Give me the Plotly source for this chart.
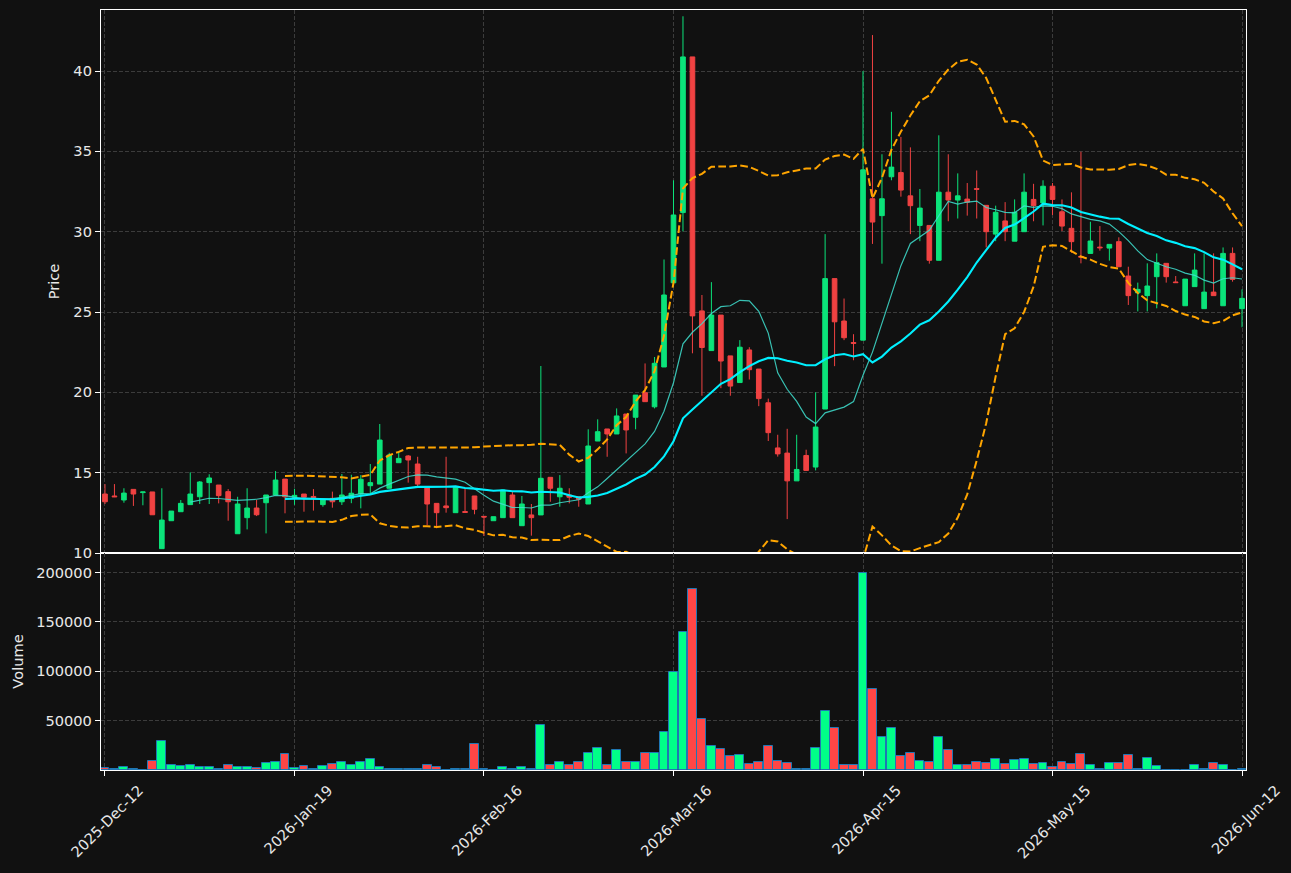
import numpy as np
import pandas as pd
import plotly.graph_objects as go
from plotly.subplots import make_subplots

# ---------------- data ----------------
tick_labels = ["2025-Dec-12", "2026-Jan-19", "2026-Feb-16", "2026-Mar-16",
               "2026-Apr-15", "2026-May-15", "2026-Jun-12"]
tick_index = [0, 20, 40, 60, 80, 100, 120]

open_ = [13.67, 13.55, 13.30, 13.96, 13.76, 13.80, 10.27, 12.01, 12.57, 13.01,
         13.50, 14.38, 14.23, 13.82, 11.20, 12.20, 12.80, 13.13, 13.61, 14.60,
         13.47, 13.67, 13.52, 13.01, 13.40, 13.19, 13.40, 13.67, 14.19, 14.29,
         14.03, 15.62, 16.04, 15.54, 14.09, 13.09, 12.93, 12.51, 12.58, 13.55,
         12.28, 12.01, 12.20, 13.61, 11.70, 12.37, 12.37, 14.71, 13.50, 13.61,
         13.50, 13.05, 16.97, 17.72, 17.41, 18.65, 18.45, 19.98, 19.10, 21.58,
         26.82, 31.19, 40.88, 25.07, 22.60, 24.81, 22.27, 20.61, 22.64, 21.45,
         19.35, 16.54, 16.22, 14.49, 16.07, 15.35, 18.96, 27.08, 24.44, 23.10,
         23.25, 32.05, 31.00, 33.42, 33.68, 32.23, 30.39, 30.39, 28.22, 32.46,
         31.97, 32.03, 32.68, 31.64, 29.85, 30.67, 29.41, 30.00, 32.01, 31.79,
         32.83, 31.24, 30.21, 28.46, 28.65, 29.04, 28.98, 29.38, 27.24, 26.20,
         26.02, 27.20, 28.03, 26.87, 25.39, 26.58, 25.21, 26.24, 25.39, 28.65,
         25.21]
high = [14.29, 14.29, 14.03, 13.96, 13.80, 13.80, 14.03, 12.61, 13.30, 15.02,
        14.48, 14.90, 14.23, 13.98, 13.50, 14.03, 13.30, 13.61, 15.10, 14.60,
        14.00, 13.67, 13.98, 13.34, 13.82, 14.92, 14.87, 14.85, 15.54, 18.03,
        16.24, 16.30, 16.10, 15.99, 14.09, 13.09, 15.99, 14.07, 14.03, 13.55,
        12.28, 12.26, 13.92, 13.82, 13.55, 13.05, 21.64, 14.71, 14.85, 14.03,
        13.50, 17.70, 18.32, 17.72, 19.00, 18.65, 19.83, 21.80, 22.20, 28.27,
        33.20, 43.41, 40.88, 26.06, 26.86, 24.81, 22.27, 23.25, 22.81, 21.45,
        19.61, 17.36, 17.73, 17.36, 16.43, 20.00, 29.85, 27.08, 25.84, 23.62,
        40.00, 42.24, 34.82, 37.46, 35.90, 35.25, 32.66, 30.39, 36.00, 34.82,
        33.63, 33.03, 33.81, 31.64, 31.62, 31.84, 32.01, 33.63, 32.98, 33.20,
        33.03, 32.01, 32.45, 34.98, 30.62, 30.35, 29.21, 29.65, 27.82, 26.83,
        28.03, 28.65, 28.03, 27.24, 27.05, 28.65, 28.65, 28.65, 29.02, 29.02,
        26.41]
low = [13.05, 13.48, 13.13, 12.93, 12.97, 12.38, 10.27, 12.01, 12.57, 13.01,
       13.05, 13.05, 13.09, 12.01, 11.20, 11.47, 12.30, 11.22, 13.61, 12.47,
       13.00, 12.57, 12.64, 12.88, 12.82, 12.99, 13.10, 12.78, 13.72, 14.29,
       14.03, 15.62, 14.38, 14.17, 11.74, 11.54, 12.51, 12.51, 12.53, 12.41,
       11.06, 12.01, 12.20, 12.20, 11.70, 11.08, 12.37, 13.19, 12.88, 13.09,
       12.88, 13.05, 16.97, 15.99, 17.41, 16.20, 17.70, 19.42, 19.00, 21.58,
       26.82, 30.02, 22.43, 19.79, 22.60, 20.26, 19.79, 20.61, 20.80, 19.14,
       16.97, 16.00, 12.11, 14.49, 15.14, 15.14, 18.96, 21.63, 23.25, 22.00,
       23.25, 29.24, 28.01, 33.20, 32.18, 29.85, 29.41, 28.01, 28.22, 30.65,
       30.82, 31.00, 30.82, 29.02, 29.41, 29.41, 29.41, 30.00, 30.65, 30.39,
       31.04, 30.04, 28.69, 28.03, 28.65, 28.82, 28.20, 27.82, 25.44, 25.04,
       25.04, 25.23, 26.83, 26.83, 25.39, 26.58, 25.21, 26.02, 25.39, 26.89,
       24.05]
close = [13.19, 13.50, 13.73, 13.67, 13.80, 12.38, 12.05, 12.61, 13.09, 13.67,
         14.42, 14.67, 13.57, 13.19, 13.05, 12.80, 12.38, 13.61, 14.54, 13.50,
         13.59, 13.47, 13.45, 13.34, 13.19, 13.61, 13.72, 14.59, 14.38, 17.03,
         16.10, 15.89, 15.79, 14.29, 13.05, 12.51, 12.82, 14.07, 12.53, 12.72,
         12.24, 12.26, 13.92, 12.20, 13.05, 12.20, 14.65, 14.03, 14.03, 13.47,
         13.34, 16.66, 17.55, 17.41, 18.53, 17.66, 19.83, 19.42, 21.81, 26.06,
         31.04, 40.88, 24.76, 22.79, 24.81, 21.95, 20.39, 22.81, 21.41, 19.61,
         17.49, 16.17, 14.49, 15.20, 15.14, 17.84, 27.08, 24.39, 23.40, 23.05,
         33.85, 30.60, 32.05, 34.02, 32.59, 31.62, 31.47, 28.22, 32.46, 31.97,
         32.23, 31.84, 32.64, 30.00, 31.21, 30.00, 31.21, 32.46, 31.62, 32.83,
         32.01, 30.35, 29.38, 28.42, 29.42, 29.00, 29.21, 27.82, 26.02, 26.41,
         26.62, 28.07, 27.20, 26.83, 27.05, 27.61, 26.24, 26.02, 28.65, 27.03,
         25.85]
volume = [2000, 800, 3400, 800, 300, 9500, 29800, 5500, 4500, 5500,
          3400, 3400, 1400, 5500, 3400, 3400, 2400, 7500, 8500, 16600,
          2400, 4500, 1400, 4500, 6500, 8500, 5500, 8500, 11500, 3400,
          800, 800, 1400, 1400, 5500, 3400, 300, 800, 800, 26400,
          600, 200, 3400, 1400, 3400, 1400, 46000, 5500, 8500, 5500,
          8500, 17600, 22700, 5500, 20700, 8500, 8500, 17600, 17600, 38900,
          99700, 139300, 182800, 52100, 24700, 21700, 14600, 15600, 6500, 8500,
          24700, 9500, 7500, 800, 1400, 22700, 60200, 43000, 5500, 5500,
          199000, 82500, 33800, 43000, 14600, 17600, 9500, 8500, 33800, 20700,
          5500, 5500, 8500, 7500, 11500, 6500, 10500, 11500, 6500, 7500,
          3400, 8500, 6500, 16600, 5500, 1400, 7500, 7500, 15600, 1400,
          12500, 4500, 500, 500, 500, 5500, 1400, 7500, 5500, 500,
          1400]

# ---------------- derived series ----------------
x = np.arange(len(close))
cs = pd.Series(close)
ma10 = cs.rolling(10).mean()
ma20 = cs.rolling(20).mean()
sd20 = cs.rolling(20).std()
bb_up = ma20 + 2 * sd20
bb_lo = ma20 - 2 * sd20

UP_C = "#0be37a"
DN_C = "#f04242"
VUP_C = "#00ff88"
VDN_C = "#ff4646"
vcolors = [VUP_C if c >= o else VDN_C for o, c in zip(open_, close)]

fig = make_subplots(rows=2, cols=1, shared_xaxes=True, vertical_spacing=0,
                    row_heights=[543, 217])

fig.add_trace(go.Candlestick(
    x=x, open=open_, high=high, low=low, close=close,
    increasing=dict(line=dict(color=UP_C, width=1), fillcolor=UP_C),
    decreasing=dict(line=dict(color=DN_C, width=1), fillcolor=DN_C),
    whiskerwidth=0, showlegend=False, hoverinfo="skip"), row=1, col=1)

fig.add_trace(go.Scatter(x=x, y=ma10, mode="lines",
                         line=dict(color="rgba(64,224,208,0.85)", width=1.2),
                         showlegend=False, hoverinfo="skip"), row=1, col=1)
fig.add_trace(go.Scatter(x=x, y=ma20, mode="lines",
                         line=dict(color="#00f0ff", width=2.1),
                         showlegend=False, hoverinfo="skip"), row=1, col=1)
for band in (bb_up, bb_lo):
    fig.add_trace(go.Scatter(x=x, y=band, mode="lines",
                             line=dict(color="#ffa500", width=2, dash="7.7px,3.3px"),
                             showlegend=False, hoverinfo="skip"), row=1, col=1)

fig.add_trace(go.Bar(x=x, y=volume, marker=dict(color=vcolors,
                     line=dict(color="#1f77b4", width=1)),
                     width=0.94, showlegend=False, hoverinfo="skip"), row=2, col=1)

GRID = "#3c3c3c"
FONT = dict(family="DejaVu Sans", size=14.6, color="#e8e8e8")
xr = [-0.42, 120.42]

axis_common = dict(showline=True, linecolor="white", linewidth=1.3, mirror=True,
                   showgrid=True, gridcolor=GRID, gridwidth=1, griddash="4px,2px",
                   zeroline=False, automargin=False)

fig.update_xaxes(range=xr, tickvals=tick_index, ticktext=tick_labels,
                 **axis_common)
fig.update_xaxes(showticklabels=False, ticks="", rangeslider_visible=False,
                 row=1, col=1)
fig.update_xaxes(ticks="outside", ticklen=5, tickcolor="white", tickwidth=1,
                 tickangle=-45, ticklabelshift=34, row=2, col=1)

fig.update_yaxes(range=[10, 43.8], tickvals=[10, 15, 20, 25, 30, 35, 40],
                 ticks="outside", ticklen=5, tickcolor="white",
                 title=dict(text="Price", font=FONT, standoff=10),
                 row=1, col=1, **axis_common)
fig.update_yaxes(range=[0, 219700], tickvals=[50000, 100000, 150000, 200000],
                 tickformat="d", ticks="outside", ticklen=5, tickcolor="white",
                 title=dict(text="Volume", font=FONT, standoff=9),
                 row=2, col=1, **axis_common)

fig.update_layout(
    width=1291, height=873,
    margin=dict(l=101, r=45, t=10, b=103),
    paper_bgcolor="#111111", plot_bgcolor="#111111",
    font=FONT, bargap=0, showlegend=False, hovermode=False,
)

fig.write_html("out.html", config={"displayModeBar": False})
